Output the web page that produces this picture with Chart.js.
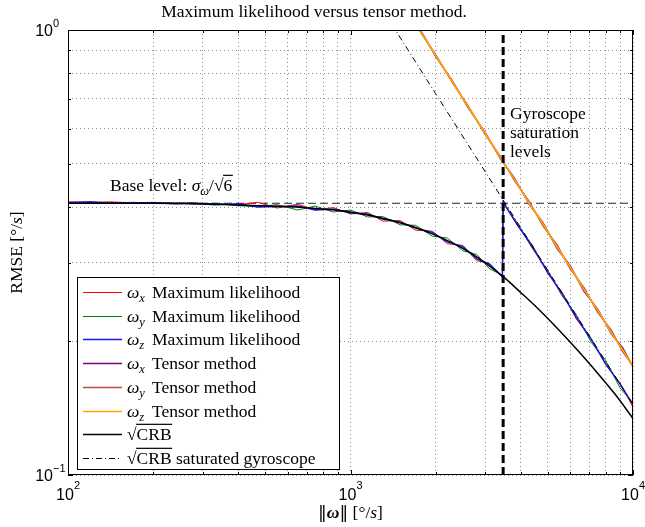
<!DOCTYPE html>
<html>
<head>
<meta charset="utf-8">
<script src="https://cdn.jsdelivr.net/npm/chart.js@4.4.0/dist/chart.umd.min.js"></script>
<style>
  html, body { margin: 0; padding: 0; background: #fff; }
</style>
</head>
<body>
<canvas id="rmseChart" width="645" height="527"></canvas>
<script>
// ---- values ----
// axis ticks (log scales)
const xTicks = [100, 200, 300, 400, 500, 600, 700, 800, 900, 1000, 2000, 3000, 4000, 5000, 6000, 7000, 8000, 9000, 10000];
const yTicks = [0.1, 0.2, 0.3, 0.4, 0.5, 0.6, 0.7, 0.8, 0.9, 1];
const xMajor = [100, 1000, 10000];
const xMajorExp = ['2', '3', '4'];
const yMajor = [0.1, 1];
const yMajorExp = ['\u22121', '0'];

// sqrt(CRB)
const crbOmega = [100, 195, 293, 406, 519, 719, 1000, 1380, 1910, 2650, 3470, 3980, 4690, 5990, 7640, 8630, 10000];
const crbVals = [0.408, 0.408, 0.407, 0.404, 0.402, 0.398, 0.390, 0.374, 0.350, 0.316, 0.279, 0.258, 0.234, 0.199, 0.167, 0.152, 0.134];

// sqrt(CRB) saturated gyroscope
const satOmega = [1400, 2000, 3000, 4000, 6000, 10000];
const satVals = [1.03, 0.72, 0.48, 0.36, 0.24, 0.144];

// maximum likelihood
const mlOmega = [100, 120, 140, 170, 200, 240, 280, 330, 400, 470, 550, 650, 750, 870, 1000, 1150, 1300, 1500, 1700, 1950, 2200, 2500, 2800, 3100, 3450, 3470, 3900, 4400, 5000, 5600, 6300, 7100, 8000, 9000, 10000];
const mlX = [0.411, 0.410, 0.411, 0.409, 0.410, 0.408, 0.409, 0.406, 0.405, 0.410, 0.398, 0.406, 0.394, 0.399, 0.386, 0.389, 0.372, 0.373, 0.355, 0.353, 0.331, 0.328, 0.303, 0.299, 0.278, 0.412, 0.363, 0.329, 0.283, 0.258, 0.224, 0.203, 0.177, 0.161, 0.142];
const mlY = [0.410, 0.409, 0.409, 0.410, 0.408, 0.409, 0.406, 0.408, 0.403, 0.401, 0.405, 0.394, 0.402, 0.390, 0.394, 0.380, 0.381, 0.365, 0.364, 0.344, 0.341, 0.319, 0.313, 0.291, 0.281, 0.409, 0.368, 0.323, 0.288, 0.253, 0.229, 0.199, 0.181, 0.157, 0.145];
const mlZ = [0.409, 0.411, 0.408, 0.409, 0.409, 0.407, 0.408, 0.405, 0.407, 0.400, 0.401, 0.402, 0.394, 0.396, 0.388, 0.386, 0.376, 0.370, 0.359, 0.351, 0.334, 0.326, 0.306, 0.298, 0.279, 0.410, 0.365, 0.326, 0.285, 0.256, 0.226, 0.202, 0.178, 0.160, 0.144];

// tensor method
const tensorOmega = [1600, 1800, 2000, 2300, 2600, 3000, 3400, 3800, 4300, 4800, 5400, 6000, 6700, 7500, 8400, 9200, 10000];
const tensorX = [1.095, 0.980, 0.874, 0.767, 0.671, 0.588, 0.513, 0.465, 0.405, 0.369, 0.322, 0.295, 0.259, 0.236, 0.207, 0.193, 0.175];
const tensorY = [1.099, 0.972, 0.881, 0.760, 0.678, 0.582, 0.519, 0.459, 0.411, 0.363, 0.328, 0.290, 0.264, 0.232, 0.211, 0.189, 0.176];
const tensorZ = [1.097, 0.976, 0.877, 0.764, 0.674, 0.586, 0.515, 0.463, 0.407, 0.367, 0.324, 0.293, 0.261, 0.235, 0.208, 0.191, 0.1755];

// reference lines
const baseOmega = [100, 10000];
const baseVals = [0.408, 0.408];
const gyroSatOmega = [3470, 3470];
const gyroSatVals = [0.1, 1];

const SERIF = '"Liberation Serif", "Times New Roman", serif';
const SANS = '"Liberation Sans", Arial, sans-serif';

const pts = (xs, ys) => xs.map((x, i) => ({ x: x, y: ys[i] }));

function line(label, xs, ys, color, width, order, extra) {
    return Object.assign({
        label: label,
        data: pts(xs, ys),
        borderColor: color,
        borderWidth: width,
        pointRadius: 0,
        fill: false,
        tension: 0,
        order: order,
        clip: 0
    }, extra || {});
}

// draw a row of text pieces, returns the end x
function runs(ctx, x, y, parts) {
    for (const p of parts) {
        ctx.font = p.f;
        ctx.fillText(p.t, x, y + (p.dy || 0));
        x += ctx.measureText(p.t).width;
    }
    return x;
}

// sqrt sign with overline over the body text
function sqrtText(ctx, x, y, size, body) {
    ctx.font = `${size}px ${SERIF}`;
    ctx.fillText('\u221A', x, y);
    const w = ctx.measureText('\u221A').width;
    ctx.fillText(body, x + w, y);
    const bw = ctx.measureText(body).width;
    ctx.fillRect(x + w - 0.5, y - size * 0.93, bw + 1, 1.2);
    return x + w + bw;
}

const legendRows = [
    { label: 'mlX', sub: 'x', text: 'Maximum likelihood' },
    { label: 'mlY', sub: 'y', text: 'Maximum likelihood' },
    { label: 'mlZ', sub: 'z', text: 'Maximum likelihood' },
    { label: 'tensorX', sub: 'x', text: 'Tensor method' },
    { label: 'tensorY', sub: 'y', text: 'Tensor method' },
    { label: 'tensorZ', sub: 'z', text: 'Tensor method' },
    { label: 'crb', sqrt: true, text: '' },
    { label: 'satCrb', sqrt: true, text: ' saturated gyroscope' }
];

// Box, inward ticks, labels, annotations and legend, MATLAB style
const matlabFrame = {
    id: 'matlabFrame',
    afterDatasetsDraw(chart) {
        const { ctx, chartArea: a } = chart;
        const xs = chart.scales.x, ys = chart.scales.y;
        ctx.save();
        ctx.fillStyle = '#000';
        ctx.strokeStyle = '#000';
        ctx.lineWidth = 1;

        // inward ticks on all four sides
        ctx.beginPath();
        xs.ticks.forEach(t => {
            const px = Math.round(xs.getPixelForValue(t.value)) + 0.5;
            const len = xMajor.includes(t.value) ? 5 : 3;
            ctx.moveTo(px, a.bottom); ctx.lineTo(px, a.bottom - len);
            ctx.moveTo(px, a.top); ctx.lineTo(px, a.top + len);
        });
        ys.ticks.forEach(t => {
            const py = Math.round(ys.getPixelForValue(t.value)) + 0.5;
            const len = yMajor.includes(t.value) ? 5 : 3;
            ctx.moveTo(a.left, py); ctx.lineTo(a.left + len, py);
            ctx.moveTo(a.right, py); ctx.lineTo(a.right - len, py);
        });
        ctx.stroke();
        ctx.strokeRect(a.left + 0.5, a.top + 0.5, a.right - a.left - 1, a.bottom - a.top - 1);

        // tick labels 10^n
        ctx.textBaseline = 'alphabetic';
        xMajor.forEach((v, i) => {
            const px = xs.getPixelForValue(v);
            ctx.font = `16px ${SANS}`;
            const w = ctx.measureText('10').width;
            ctx.fillText('10', px - w / 2 - 3, a.bottom + 25);
            ctx.font = `11px ${SANS}`;
            ctx.fillText(xMajorExp[i], px + w / 2 - 3, a.bottom + 14);
        });
        yMajor.forEach((v, i) => {
            const py = ys.getPixelForValue(v);
            ctx.font = `16px ${SANS}`;
            const w = ctx.measureText('10').width;
            ctx.fillText('10', 53 - w, py + 6);
            ctx.font = `11px ${SANS}`;
            ctx.fillText(yMajorExp[i], 53, py - 3);
        });

        // title
        ctx.font = `17.5px ${SERIF}`;
        const title = 'Maximum likelihood versus tensor method.';
        ctx.fillText(title, 314 - ctx.measureText(title).width / 2, 17);

        // axis titles
        const it = `italic 17.5px ${SERIF}`, rm = `17.5px ${SERIF}`;
        const xParts = [
            { t: '\u2016', f: `17.5px "DejaVu Serif", ${SERIF}` },
            { t: '\u03C9', f: `italic bold 17.5px ${SERIF}` },
            { t: '\u2016', f: `17.5px "DejaVu Serif", ${SERIF}` },
            { t: ' [\u00B0/', f: rm },
            { t: 's', f: it },
            { t: ']', f: rm }
        ];
        let wx = 0;
        xParts.forEach(p => { ctx.font = p.f; wx += ctx.measureText(p.t).width; });
        runs(ctx, (a.left + a.right) / 2 - wx / 2, 518, xParts);

        const yParts = [
            { t: 'RMSE [\u00B0/', f: rm },
            { t: 's', f: it },
            { t: ']', f: rm }
        ];
        let wy = 0;
        yParts.forEach(p => { ctx.font = p.f; wy += ctx.measureText(p.t).width; });
        ctx.save();
        ctx.translate(22, (a.top + a.bottom) / 2);
        ctx.rotate(-Math.PI / 2);
        runs(ctx, -wy / 2, 0, yParts);
        ctx.restore();

        // annotations
        let bx = runs(ctx, 110, 191, [
            { t: 'Base level: ', f: rm },
            { t: '\u03C3', f: it },
            { t: '\u03C9', f: `italic 12.5px ${SERIF}`, dy: 4 },
            { t: '/', f: rm }
        ]);
        sqrtText(ctx, bx, 191, 17.5, '6');

        ctx.font = rm;
        ctx.fillText('Gyroscope', 510, 119);
        ctx.fillText('saturation', 510, 138);
        ctx.fillText('levels', 510, 157);

        // legend
        const L = { x: 77, y: 277, w: 262, h: 192 };
        ctx.fillStyle = '#fff';
        ctx.fillRect(L.x, L.y, L.w, L.h);
        ctx.strokeStyle = '#000';
        ctx.lineWidth = 1;
        ctx.strokeRect(L.x + 0.5, L.y + 0.5, L.w, L.h);
        legendRows.forEach((row, i) => {
            const ds = chart.data.datasets.find(d => d.label === row.label);
            const cy = Math.round(292 + i * 23.7) + 0.5;
            ctx.save();
            ctx.strokeStyle = ds.borderColor;
            ctx.lineWidth = Math.min(ds.borderWidth, 2);
            ctx.setLineDash(ds.borderDash || []);
            ctx.beginPath();
            ctx.moveTo(83, cy); ctx.lineTo(122, cy);
            ctx.stroke();
            ctx.restore();
            ctx.fillStyle = '#000';
            const by = cy + 5.5;
            if (row.sqrt) {
                const ex = sqrtText(ctx, 127, by, 17.5, 'CRB');
                ctx.font = rm;
                ctx.fillText(row.text, ex, by);
            } else {
                runs(ctx, 127, by, [
                    { t: '\u03C9', f: it },
                    { t: row.sub, f: `italic 12.5px ${SERIF}`, dy: 4 }
                ]);
                ctx.font = rm;
                ctx.fillText(row.text, 152, by);
            }
        });
        ctx.restore();
    }
};

const logAxis = (min, max, ticks) => ({
    type: 'logarithmic',
    min: min,
    max: max,
    afterBuildTicks: scale => { scale.ticks = ticks.map(v => ({ value: v })); },
    ticks: { display: false },
    grid: { color: 'rgba(0,0,0,0.45)', lineWidth: 1, drawTicks: false },
    border: { display: false, dash: [1, 3] },
    title: { display: false }
});

new Chart(document.getElementById('rmseChart'), {
    type: 'line',
    data: {
        datasets: [
            line('gyroSat', gyroSatOmega, gyroSatVals, '#000', 3, 1, { borderDash: [8, 4] }),
            line('satCrb', satOmega, satVals, '#000', 1, 2, { borderDash: [6, 3, 1, 3] }),
            line('crb', crbOmega, crbVals, '#000', 1.5, 3, { cubicInterpolationMode: 'monotone' }),
            line('tensorZ', tensorOmega, tensorZ, '#ffa500', 1.6, 4),
            line('tensorY', tensorOmega, tensorY, '#c04848', 1.4, 5),
            line('tensorX', tensorOmega, tensorX, '#800080', 1.4, 6),
            line('mlZ', mlOmega, mlZ, '#1a1ae6', 1.5, 7),
            line('mlY', mlOmega, mlY, '#008000', 1, 8),
            line('mlX', mlOmega, mlX, '#ff0000', 1, 9),
            line('base', baseOmega, baseVals, '#222', 1, 10, { borderDash: [8, 4] })
        ]
    },
    options: {
        responsive: false,
        animation: false,
        events: [],
        layout: { padding: { left: 68, top: 30, right: 12, bottom: 52 } },
        scales: {
            x: logAxis(100, 10000, xTicks),
            y: logAxis(0.1, 1, yTicks)
        },
        plugins: {
            legend: { display: false },
            tooltip: { enabled: false },
            title: { display: false }
        }
    },
    plugins: [matlabFrame]
});
</script>
</body>
</html>
